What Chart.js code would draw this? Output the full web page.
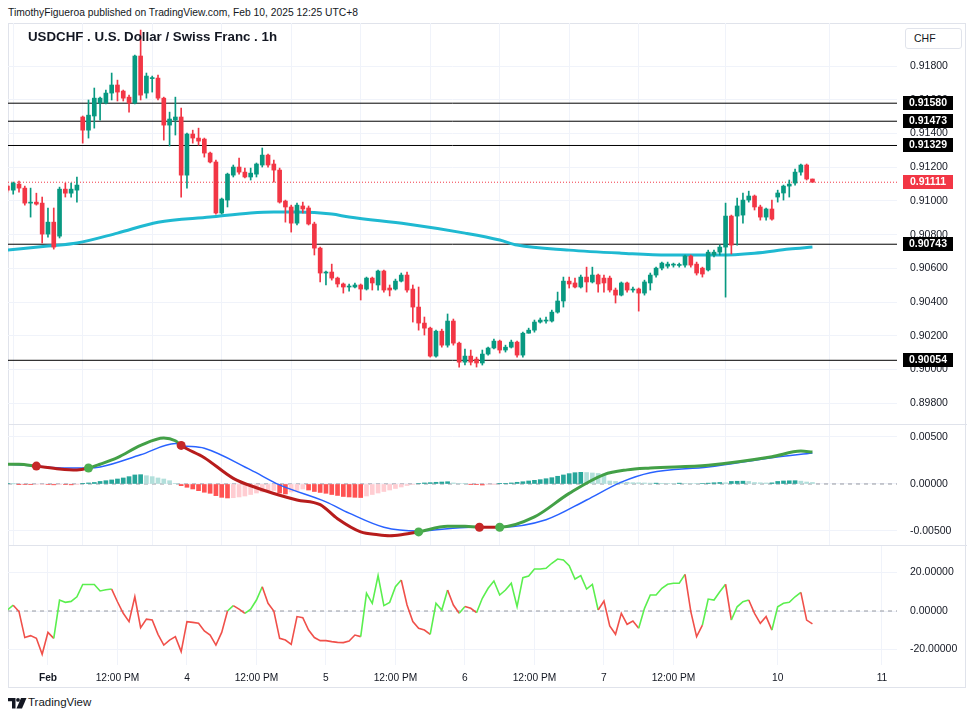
<!DOCTYPE html>
<html>
<head>
<meta charset="utf-8">
<script src="https://cdn.jsdelivr.net/npm/chart.js@4.4.1/dist/chart.umd.min.js"></script>
<style>
  body { margin: 0; background: #fff; width: 975px; height: 720px; overflow: hidden; position: relative;
         font-family: "Liberation Sans", Arial, sans-serif; color: #131722; }
  canvas { position: absolute; left: 0; }
  .frame { position: absolute; left: 8px; top: 23px; width: 958px; height: 665px; border: 1px solid #e0e3eb; box-sizing: border-box; }
  .sep { position: absolute; left: 8px; width: 959px; height: 1px; background: #e0e3eb; }
  #hdr { position: absolute; left: 8px; top: 7px; font-size: 10.3px; white-space: nowrap; }
  #title { position: absolute; left: 28px; top: 29px; font-size: 13.3px; font-weight: bold; white-space: nowrap; }
  #cur { position: absolute; left: 905px; top: 28px; width: 57px; height: 21px; border: 1px solid #e0e3eb; border-radius: 3px;
         box-sizing: border-box; font-size: 10.5px; line-height: 19px; padding-left: 8px; background: #fff; }
  #logo { position: absolute; left: 8px; top: 698px; }
  #brand { position: absolute; left: 28px; top: 696px; font-size: 11.5px; }
</style>
</head>
<body>
<div class="frame"></div>
<div id="hdr">TimothyFigueroa published on TradingView.com, Feb 10, 2025 12:25 UTC+8</div>
<canvas id="main" width="968" height="445" style="top:1px"></canvas>
<canvas id="macd" width="968" height="165" style="top:402px"></canvas>
<canvas id="osc" width="968" height="166" style="top:524px"></canvas>
<div class="sep" style="top:424px"></div>
<div class="sep" style="top:545px"></div>
<div id="title">USDCHF . U.S. Dollar / Swiss Franc . 1h</div>
<div id="cur">CHF</div>
<svg id="logo" width="19" height="11" viewBox="0 0 19 11">
  <path d="M0 0H7.5V10.5H4V3.3H0Z" fill="#131722"/>
  <circle cx="10" cy="1.9" r="1.9" fill="#131722"/>
  <path d="M13 0H18.5L14 10.5H8.5Z" fill="#131722"/>
</svg>
<div id="brand">TradingView</div>
<script>
const FONT = '"Liberation Sans", Arial, sans-serif';

// hourly bars, index 0 = Feb 1 00:00 (weekend hours removed)
const firstBar = -7;
const opens = [
  0.91088, 0.91064, 0.91100, 0.91076, 0.90987, 0.90993, 0.90987, 0.90803, 0.90874, 0.90791,
  0.91070, 0.91046, 0.91064, 0.91498, 0.91420, 0.91504, 0.91581, 0.91581, 0.91640, 0.91688,
  0.91652, 0.91616, 0.91581, 0.91860, 0.91640, 0.91726, 0.91729, 0.91610, 0.91450, 0.91480,
  0.91498, 0.91153, 0.91397, 0.91373, 0.91367, 0.91284, 0.91231, 0.90928, 0.91005, 0.91153,
  0.91201, 0.91171, 0.91142, 0.91159, 0.91213, 0.91272, 0.91219, 0.91183, 0.90999, 0.90964,
  0.90868, 0.90970, 0.90958, 0.90863, 0.90720, 0.90572, 0.90578, 0.90542, 0.90507, 0.90489,
  0.90489, 0.90501, 0.90477, 0.90542, 0.90501, 0.90584, 0.90483, 0.90477, 0.90524, 0.90560,
  0.90477, 0.90370, 0.90275, 0.90245, 0.90079, 0.90227, 0.90144, 0.90287, 0.90156, 0.90043,
  0.90079, 0.90061, 0.90038, 0.90091, 0.90127, 0.90168, 0.90115, 0.90132, 0.90162, 0.90085,
  0.90215, 0.90233, 0.90281, 0.90287, 0.90287, 0.90340, 0.90406, 0.90524, 0.90513, 0.90489,
  0.90548, 0.90519, 0.90560, 0.90542, 0.90542, 0.90471, 0.90441, 0.90513, 0.90471, 0.90477,
  0.90453, 0.90513, 0.90560, 0.90601, 0.90613, 0.90619, 0.90617, 0.90619, 0.90673, 0.90625,
  0.90601, 0.90590, 0.90679, 0.90696, 0.90726, 0.90910, 0.90910, 0.90916, 0.91005, 0.91029,
  0.90964, 0.90904, 0.90952, 0.91023, 0.91047, 0.91088, 0.91106, 0.91171, 0.91213, 0.91130
];
const highs = [
  0.91094, 0.91112, 0.91118, 0.91088, 0.91076, 0.91046, 0.91023, 0.90958, 0.90958, 0.91082,
  0.91106, 0.91106, 0.91142, 0.91504, 0.91599, 0.91670, 0.91616, 0.91658, 0.91759, 0.91717,
  0.91658, 0.91628, 0.91866, 0.92014, 0.91759, 0.91741, 0.91747, 0.91616, 0.91527, 0.91616,
  0.91551, 0.91403, 0.91420, 0.91432, 0.91373, 0.91290, 0.91242, 0.91017, 0.91165, 0.91213,
  0.91254, 0.91195, 0.91195, 0.91225, 0.91314, 0.91278, 0.91242, 0.91195, 0.91005, 0.90975,
  0.90987, 0.90993, 0.90970, 0.90874, 0.90726, 0.90584, 0.90625, 0.90548, 0.90513, 0.90507,
  0.90513, 0.90507, 0.90548, 0.90548, 0.90590, 0.90590, 0.90501, 0.90536, 0.90572, 0.90578,
  0.90501, 0.90489, 0.90311, 0.90251, 0.90233, 0.90239, 0.90329, 0.90299, 0.90162, 0.90121,
  0.90115, 0.90073, 0.90115, 0.90132, 0.90180, 0.90174, 0.90144, 0.90174, 0.90168, 0.90221,
  0.90245, 0.90293, 0.90305, 0.90311, 0.90352, 0.90459, 0.90548, 0.90548, 0.90542, 0.90560,
  0.90607, 0.90607, 0.90566, 0.90560, 0.90554, 0.90483, 0.90519, 0.90519, 0.90489, 0.90483,
  0.90530, 0.90572, 0.90607, 0.90637, 0.90637, 0.90631, 0.90631, 0.90679, 0.90679, 0.90637,
  0.90607, 0.90708, 0.90708, 0.90738, 0.90987, 0.90916, 0.91017, 0.91047, 0.91058, 0.91035,
  0.90975, 0.90958, 0.91005, 0.91064, 0.91094, 0.91124, 0.91189, 0.91219, 0.91219, 0.91130
];
const lows = [
  0.91052, 0.91040, 0.91052, 0.90975, 0.90904, 0.90975, 0.90750, 0.90785, 0.90714, 0.90780,
  0.91023, 0.91023, 0.90993, 0.91343, 0.91373, 0.91432, 0.91480, 0.91575, 0.91599, 0.91593,
  0.91593, 0.91527, 0.91575, 0.91599, 0.91610, 0.91646, 0.91599, 0.91361, 0.91326, 0.91391,
  0.91023, 0.91076, 0.91343, 0.91331, 0.91260, 0.91225, 0.90922, 0.90922, 0.90964, 0.91142,
  0.91159, 0.91136, 0.91124, 0.91142, 0.91201, 0.91201, 0.91112, 0.90987, 0.90874, 0.90815,
  0.90857, 0.90928, 0.90857, 0.90679, 0.90519, 0.90501, 0.90530, 0.90489, 0.90453, 0.90465,
  0.90483, 0.90412, 0.90471, 0.90471, 0.90471, 0.90459, 0.90436, 0.90471, 0.90519, 0.90459,
  0.90281, 0.90233, 0.90204, 0.90073, 0.90073, 0.90132, 0.90132, 0.90144, 0.90014, 0.90026,
  0.90026, 0.90014, 0.90026, 0.90085, 0.90121, 0.90097, 0.90103, 0.90127, 0.90073, 0.90073,
  0.90215, 0.90221, 0.90275, 0.90275, 0.90281, 0.90334, 0.90370, 0.90483, 0.90483, 0.90483,
  0.90459, 0.90513, 0.90459, 0.90459, 0.90459, 0.90394, 0.90436, 0.90459, 0.90459, 0.90346,
  0.90441, 0.90471, 0.90548, 0.90590, 0.90601, 0.90607, 0.90607, 0.90607, 0.90607, 0.90560,
  0.90548, 0.90584, 0.90667, 0.90679, 0.90429, 0.90685, 0.90738, 0.90868, 0.90993, 0.90946,
  0.90886, 0.90886, 0.90886, 0.90993, 0.91005, 0.91023, 0.91094, 0.91153, 0.91124, 0.91111
];
const closes = [
  0.91064, 0.91106, 0.91076, 0.90987, 0.90990, 0.90981, 0.90803, 0.90874, 0.90726, 0.91070,
  0.91046, 0.91070, 0.91094, 0.91420, 0.91509, 0.91610, 0.91610, 0.91640, 0.91688, 0.91646,
  0.91610, 0.91581, 0.91860, 0.91628, 0.91741, 0.91729, 0.91610, 0.91450, 0.91486, 0.91498,
  0.91153, 0.91397, 0.91373, 0.91355, 0.91284, 0.91231, 0.90928, 0.91011, 0.91159, 0.91201,
  0.91171, 0.91142, 0.91165, 0.91219, 0.91272, 0.91213, 0.91183, 0.90993, 0.90964, 0.90868,
  0.90975, 0.90952, 0.90863, 0.90720, 0.90572, 0.90578, 0.90542, 0.90507, 0.90489, 0.90492,
  0.90501, 0.90477, 0.90542, 0.90513, 0.90584, 0.90471, 0.90471, 0.90524, 0.90560, 0.90471,
  0.90370, 0.90275, 0.90245, 0.90079, 0.90227, 0.90144, 0.90287, 0.90156, 0.90043, 0.90079,
  0.90043, 0.90038, 0.90091, 0.90127, 0.90168, 0.90115, 0.90132, 0.90162, 0.90085, 0.90215,
  0.90233, 0.90281, 0.90293, 0.90293, 0.90340, 0.90406, 0.90524, 0.90507, 0.90489, 0.90548,
  0.90519, 0.90560, 0.90507, 0.90513, 0.90471, 0.90441, 0.90513, 0.90471, 0.90474, 0.90453,
  0.90519, 0.90560, 0.90601, 0.90631, 0.90625, 0.90622, 0.90621, 0.90673, 0.90619, 0.90572,
  0.90566, 0.90696, 0.90696, 0.90726, 0.90910, 0.90738, 0.90970, 0.91005, 0.91029, 0.90964,
  0.90904, 0.90952, 0.90892, 0.91047, 0.91088, 0.91100, 0.91171, 0.91213, 0.91130, 0.91111
];

// moving average (cyan), sampled along the curve
const maX = [-7, 0, 5, 12, 19, 28, 35, 39, 43, 49, 52, 62, 72, 78, 81, 90, 99, 107, 116, 122, 128, 132];
const maY = [0.90708, 0.90732, 0.90750, 0.90809, 0.90874, 0.90904, 0.90928, 0.90934, 0.90934, 0.90922, 0.90904,
             0.90863, 0.90809, 0.90768, 0.90738, 0.90708, 0.90690, 0.90679, 0.90679, 0.90690, 0.90714, 0.90726];

// drawn horizontal levels
const levels = [0.91580, 0.91473, 0.91329, 0.90743, 0.90054];

// MACD pane
const macdX = [-7, -5, -2, 2, 5, 7, 9, 12, 16, 20, 22, 23, 27, 32, 36, 40, 43, 47, 50, 54, 57, 59, 61, 64,
               69, 72, 74.5, 78, 84, 90, 96, 100, 104, 114, 125, 130, 132];
const macdY = [0.0021, 0.0021, 0.0019, 0.0016, 0.0015, 0.0017, 0.0021, 0.0028, 0.0041, 0.0049, 0.0046, 0.0041,
               0.0028, 0.0006, -0.0004, -0.0012, -0.0017, -0.0022, -0.0037, -0.0051, -0.0054, -0.0055, -0.0054,
               -0.0051, -0.0045, -0.0045, -0.0046, -0.0046, -0.0035, -0.0010, 0.0010, 0.0015, 0.0017, 0.0020,
               0.0029, 0.0035, 0.0034];
const signalX = [-7, -2, 3, 7, 9, 16, 22, 23, 27, 35, 40, 48, 52, 58, 64, 73, 78, 86, 93, 99, 104, 114, 125, 132];
const signalY = [0.0021, 0.0019, 0.0017, 0.0017, 0.0018, 0.0031, 0.0043, 0.0041, 0.0038, 0.0015, -0.0001, -0.0019,
                 -0.0031, -0.0046, -0.0050, -0.0046, -0.0046, -0.0038, -0.0017, 0.0002, 0.0012, 0.0018, 0.0028, 0.0033];
const crossX = [-2, 7, 23, 64, 74.5, 78];
const crossY = [0.0019, 0.0017, 0.0041, -0.0051, -0.0046, -0.0046];
const crossType = ['dn', 'up', 'dn', 'up', 'dn', 'up'];
const hist = [
  0.00002, 0.00001, -0.00003, -0.00005, -0.00007, -0.00005, -0.00004, -0.00006, -0.00009, -0.00004,
  -0.00006, -0.00009, -0.00003, 0.00003, 0.00011, 0.00016, 0.00027, 0.00035, 0.00043, 0.00053,
  0.00064, 0.00078, 0.00096, 0.00099, 0.00088, 0.00078, 0.00064, 0.00053, 0.00035, 0.00007,
  -0.00018, -0.00035, -0.00053, -0.00071, -0.00088, -0.00099, -0.00124, -0.00142, -0.00149, -0.00146,
  -0.00138, -0.00128, -0.00112, -0.00096, -0.00085, -0.00074, -0.00069, -0.00096, -0.00106, -0.00085,
  -0.00069, -0.00053, -0.00064, -0.00080, -0.00090, -0.00099, -0.00112, -0.00122, -0.00133, -0.00138,
  -0.00142, -0.00144, -0.00128, -0.00112, -0.00096, -0.00080, -0.00064, -0.00048, -0.00032, -0.00016,
  -0.00005, 0.00005, 0.00011, 0.00014, 0.00018, 0.00021, 0.00024, 0.00011, 0.00005, 0.00003,
  -0.00003, -0.00007, -0.00011, -0.00005, -0.00002, 0.00003, 0.00007, 0.00011, 0.00018, 0.00024,
  0.00032, 0.00039, 0.00046, 0.00056, 0.00067, 0.00082, 0.00096, 0.00110, 0.00120, 0.00124,
  0.00122, 0.00117, 0.00112, 0.00106, 0.00032, 0.00027, 0.00021, 0.00018, 0.00014, 0.00013,
  0.00011, 0.00009, 0.00009, 0.00007, 0.00006, 0.00005, 0.00009, 0.00006, 0.00005, 0.00004,
  0.00005, 0.00009, 0.00013, 0.00016, 0.00013, 0.00027, 0.00029, 0.00030, 0.00027, 0.00016,
  0.00013, 0.00011, 0.00012, 0.00027, 0.00032, 0.00034, 0.00035, 0.00030, 0.00021, 0.00016
];

// oscillator pane
const osc = [
  0.5, 3, -0.3, -13.8, -12.8, -14.2, -22.5, -11.1, -14.2, 5.7,
  4.5, 5, 7.4, 13.8, 13.8, 13.8, 10.4, 11, 11.4, 4.8,
  -1.2, -5.5, 7.4, -8.7, -4.2, -4.7, -12.1, -17.7, -15.1, -13.3,
  -21.1, -5.5, -5.9, -6.4, -10.4, -12.5, -17.7, -11.1, 0, 2.8,
  1, -1.2, 0.9, 5.7, 12.6, 4, 0, -14.2, -15.1, -17.3,
  -2.9, -3.5, -9.9, -13.8, -15.4, -15.4, -15.9, -16.3, -16.4, -15.6,
  -12.5, -13.3, 9.2, 4, 18.4, 2.8, 4.5, 12.6, 16.1, 3.1,
  -5.5, -9, -9.9, -12.1, 4, 0.5, 10.9, 3.1, -1.2, 2.3,
  1.4, -0.9, 6.6, 11.8, 15.6, 8.3, 10.9, 14.4, 2.3, 17.3,
  18.2, 21.8, 21.8, 22.2, 24.8, 27, 26.5, 23.5, 16.6, 18.4,
  11.4, 13.8, 0.5, 5.2, -7.8, -12.1, -1.2, -6.9, -5.2, -9,
  1.4, 8.3, 8.3, 11.8, 13.9, 14.4, 14.4, 19, -0.3, -13.3,
  -7.3, 6.2, 5.7, 10, 13.9, -4.7, 2.2, 4.8, 5.7, -1.2,
  -6.4, -2.9, -9.9, 2.2, 4, 4.5, 7.4, 9.7, -4.7, -6.7
];
// colour of each segment as it appears: g = green, r = red
const oscColors = ('g' + 'rrrrrrr' + 'gggggggggg' + 'rrrrrrrrrrrrrrrrrrrr' + 'g' + 'rr' + 'ggg' +
  'rrrrrrrrrrrrrrrrr' + 'ggggggg' + 'rrrrr' + 'ggg' + 'rr' + 'g' + 'rr' + 'ggggggggggggggggggggg' +
  'rrrrrrr' + 'gggggggg' + 'rrr' + 'gggg' + 'r' + 'ggg' + 'rrrr' + 'ggggg' + 'rr').split('');

// time axis
const tickPos = [0, 12, 24, 36, 48, 60, 72, 84, 96, 108, 126, 144];
const tickText = ['Feb', '12:00 PM', '4', '12:00 PM', '5', '12:00 PM', '6', '12:00 PM', '7', '12:00 PM', '10', '11'];
const priceTicks = [0.898, 0.900, 0.902, 0.904, 0.906, 0.908, 0.910, 0.912, 0.914, 0.916, 0.918];
const macdTicks = [-0.005, 0, 0.005];
const oscTicks = [-20, 0, 20];

const UP = '#089981', DN = '#f23645';
const xMin = -6.9, xMax = 146.6;
const PAD = 22;
const barX = k => firstBar + k;

function xScale(showTicks) {
  return {
    type: 'linear', min: xMin, max: xMax, offset: false,
    afterBuildTicks: s => { s.ticks = tickPos.map(v => ({ value: v })); },
    afterFit: s => { s.height = showTicks ? 25 : 0; },
    grid: { color: '#f0f3fa', drawTicks: false },
    border: { display: false },
    ticks: {
      display: showTicks, autoSkip: false, maxRotation: 0, padding: 7, color: '#131722',
      font: c => ({ family: FONT, size: 10.2, weight: tickText[c.index] === 'Feb' ? 'bold' : 'normal' }),
      callback: (v, k) => tickText[k]
    }
  };
}
function yScale(min, max, vals, digits) {
  return {
    position: 'right', min: min, max: max,
    afterBuildTicks: s => { s.ticks = vals.map(v => ({ value: v })); },
    afterFit: s => { s.width = 71; },
    grid: { color: '#f0f3fa', drawTicks: false },
    border: { display: false },
    ticks: { autoSkip: false, padding: 13, color: '#131722', font: { family: FONT, size: 10.5 },
             callback: v => v.toFixed(digits) }
  };
}
const common = {
  responsive: false, animation: false, events: [],
  plugins: { legend: { display: false }, tooltip: { enabled: false } }
};
const flat = y => [{ x: xMin, y: y }, { x: xMax, y: y }];

// price tags on the right axis
const tagPlugin = {
  id: 'tags',
  afterDraw(chart) {
    const ctx = chart.ctx, ys = chart.scales.y;
    const tag = (v, bg) => {
      const y = Math.round(ys.getPixelForValue(v));
      ctx.save();
      ctx.fillStyle = bg;
      ctx.fillRect(903, y - 7, 50, 14);
      ctx.fillStyle = '#fff';
      ctx.font = 'bold 10.5px ' + FONT;
      ctx.textAlign = 'center';
      ctx.textBaseline = 'middle';
      ctx.fillText(v.toFixed(5), 928, y + 0.5);
      ctx.restore();
    };
    levels.forEach(v => tag(v, '#000'));
    tag(closes[closes.length - 1], DN);
  }
};

new Chart(document.getElementById('main'), {
  type: 'bar',
  data: {
    datasets: [
      ...levels.map(v => ({ type: 'line', data: flat(v), borderColor: '#000', borderWidth: 1, pointRadius: 0, order: 6 })),
      { type: 'line', data: flat(closes[closes.length - 1]), borderColor: DN, borderWidth: 1, borderDash: [1, 2],
        pointRadius: 0, order: 5 },
      { type: 'line', data: maX.map((x, k) => ({ x: x, y: maY[k] })), borderColor: '#1fb9d1', borderWidth: 3,
        pointRadius: 0, cubicInterpolationMode: 'monotone', order: 4 },
      { data: highs.map((h, k) => ({ x: barX(k), y: [lows[k], h] })), grouped: false, barThickness: 1,
        backgroundColor: closes.map((c, k) => c >= opens[k] ? UP : DN), order: 2 },
      { data: opens.map((o, k) => ({ x: barX(k), y: [o, closes[k]] })), grouped: false, barThickness: 4, minBarLength: 1,
        backgroundColor: closes.map((c, k) => c >= opens[k] ? UP : DN), order: 1 }
    ]
  },
  options: { ...common,
    layout: { padding: { left: 8, right: 0, top: PAD, bottom: PAD } },
    scales: { x: xScale(false), y: yScale(0.89676, 0.92056, priceTicks, 5) }
  },
  plugins: [tagPlugin]
});

const histColors = hist.map((v, k) => {
  const prev = k > 0 ? hist[k - 1] : 0;
  if (v >= 0) return v >= prev ? '#26a69a' : '#b2dfdb';
  return v <= prev ? '#ff5252' : '#ffcdd2';
});
const macdColorAt = x => {
  let t = 'up';
  crossX.forEach((c, k) => { if (x >= c) t = crossType[k]; });
  return t === 'up' ? '#43a047' : '#b71c1c';
};

new Chart(document.getElementById('macd'), {
  type: 'bar',
  data: {
    datasets: [
      { type: 'line', data: flat(0), borderColor: '#9598a1', borderWidth: 1, borderDash: [4, 4], pointRadius: 0, order: 6 },
      { data: hist.map((v, k) => ({ x: barX(k), y: v })), grouped: false, barThickness: 4,
        backgroundColor: histColors, order: 5 },
      { type: 'line', data: signalX.map((x, k) => ({ x: x, y: signalY[k] })), borderColor: '#2962ff', borderWidth: 1.5,
        pointRadius: 0, cubicInterpolationMode: 'monotone', order: 3 },
      { type: 'line', data: macdX.map((x, k) => ({ x: x, y: macdY[k] })), borderWidth: 3, pointRadius: 0,
        cubicInterpolationMode: 'monotone', borderColor: '#43a047',
        segment: { borderColor: c => macdColorAt(c.p0.parsed.x) }, order: 2 },
      { type: 'line', data: crossX.map((x, k) => ({ x: x, y: crossY[k] })), showLine: false, pointRadius: 4.5,
        pointBorderWidth: 0, pointBackgroundColor: crossType.map(t => t === 'up' ? '#4caf50' : '#c62828'), order: 1 }
    ]
  },
  options: { ...common,
    layout: { padding: { left: 8, right: 0, top: PAD, bottom: PAD } },
    scales: { x: xScale(false), y: yScale(-0.00649, 0.00638, macdTicks, 5) }
  }
});

new Chart(document.getElementById('osc'), {
  type: 'line',
  data: {
    datasets: [
      { data: flat(0), borderColor: '#9598a1', borderWidth: 1, borderDash: [4, 4], pointRadius: 0, order: 2 },
      { data: osc.map((v, k) => ({ x: barX(k), y: v })), borderWidth: 1.6, pointRadius: 0, borderColor: '#5bef4f',
        segment: { borderColor: c => oscColors[c.p0DataIndex] === 'g' ? '#5bef4f' : '#f0504a' }, order: 1 }
    ]
  },
  options: { ...common,
    layout: { padding: { left: 8, right: 0, top: PAD, bottom: 0 } },
    scales: { x: xScale(true), y: yScale(-28.05, 33.77, oscTicks, 5) }
  }
});
</script>
</body>
</html>
